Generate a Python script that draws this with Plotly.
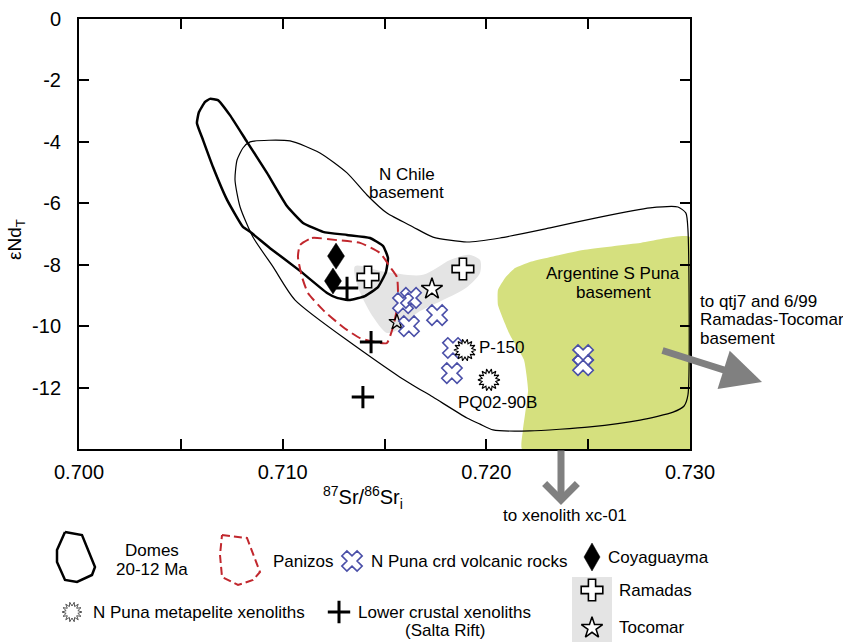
import math
import plotly.graph_objects as go

# ---------------- data ----------------
x_range = [0.700, 0.730]
y_range = [-14, 0]
x_tickvals = [0.700, 0.705, 0.710, 0.715, 0.720, 0.725, 0.730]
x_ticktext = ["0.700", "", "0.710", "", "0.720", "", "0.730"]
y_tickvals = [0, -2, -4, -6, -8, -10, -12]
y_ticktext = ["0", "-2", "-4", "-6", "-8", "-10", "-12"]

# Domes 20-12 Ma field
domes_x = [0.70643, 0.70682, 0.70741, 0.70825, 0.70923, 0.71021, 0.71100, 0.71198, 0.71316,
           0.71429, 0.71493, 0.71517, 0.71507, 0.71468, 0.71404, 0.71331, 0.71267, 0.71218,
           0.71085, 0.70938, 0.70840, 0.70805, 0.70727, 0.70658, 0.70609, 0.70579, 0.70589,
           0.70619, 0.70643]
domes_y = [-2.60, -2.64, -3.13, -4.00, -5.01, -6.09, -6.64, -6.93, -7.03,
           -7.13, -7.39, -7.78, -8.24, -8.73, -9.02, -9.15, -9.08, -8.92,
           -8.20, -7.46, -6.93, -6.77, -5.89, -4.82, -3.94, -3.39, -3.03,
           -2.70, -2.60]

# N Chile basement field
nchile_x = [0.70840, 0.71036, 0.71183, 0.71316, 0.71414, 0.71512, 0.71640, 0.71738, 0.71905,
            0.72067, 0.72313, 0.72558, 0.72804, 0.72941, 0.72980, 0.72990, 0.72990, 0.72971,
            0.72917, 0.72755, 0.72509, 0.72214, 0.72033, 0.71969, 0.71905, 0.71738, 0.71576,
            0.71061, 0.70953, 0.70854, 0.70791, 0.70766, 0.70776, 0.70805, 0.70840]
nchile_y = [-4.00, -3.97, -4.36, -5.01, -5.73, -6.32, -6.77, -7.10, -7.26,
            -7.13, -6.80, -6.45, -6.15, -6.12, -6.32, -6.87, -12.24, -12.60,
            -12.80, -13.06, -13.28, -13.41, -13.38, -13.19, -12.99, -12.31, -11.66,
            -9.15, -8.07, -7.10, -6.12, -5.24, -4.59, -4.20, -4.00]

# Panizos field
panizos_x = [0.71085, 0.71144, 0.71267, 0.71380, 0.71478, 0.71527, 0.71561, 0.71566, 0.71542,
             0.71512, 0.71478, 0.71380, 0.71296, 0.71198, 0.71124, 0.71095, 0.71075, 0.71085]
panizos_y = [-7.36, -7.13, -7.20, -7.29, -7.62, -8.07, -8.40, -9.25, -10.03,
             -10.55, -10.55, -10.39, -10.03, -9.47, -8.92, -8.40, -7.75, -7.36]

# Ramadas-Tocomar grey field
grey_x = [0.71355, 0.71493, 0.71689, 0.71822, 0.71920, 0.71969, 0.71969, 0.71905, 0.71787,
          0.71660, 0.71561, 0.71512, 0.71444, 0.71370, 0.71355]
grey_y = [-8.05, -8.22, -8.33, -7.85, -7.68, -7.85, -8.27, -8.73, -9.15,
          -9.57, -10.13, -10.22, -9.70, -8.73, -8.05]

# Argentine S Puna basement field
green_x = [0.72214, 0.72475, 0.72755, 0.73000, 0.73000, 0.72175, 0.72180, 0.72205, 0.72185,
           0.72116, 0.72057, 0.72057, 0.72092, 0.72141, 0.72214]
green_y = [-7.91, -7.52, -7.29, -7.10, -14.00, -14.00, -13.38, -12.08, -11.10,
           -10.29, -9.31, -8.82, -8.43, -8.11, -7.91]

# point data
coya_x = [0.71262, 0.71247]
coya_y = [-7.72, -8.53]
ramadas_x = [0.71419, 0.71885]
ramadas_y = [-8.40, -8.14]
tocomar_x = [0.71733, 0.71561]
tocomar_y = [-8.79, -9.87]
crd_x = [0.71591, 0.71630, 0.71620, 0.71758, 0.71836, 0.71831, 0.72475, 0.72475]
crd_y = [-9.25, -9.08, -10.00, -9.64, -10.71, -11.53, -10.94, -11.27]
meta_x = [0.71895, 0.72013]
meta_y = [-10.78, -11.75]
meta_names = ["P-150", "PQ02-90B"]
lower_x = [0.71316, 0.71434, 0.71394]
lower_y = [-8.76, -10.52, -12.31]

# ---------------- layout constants ----------------
W, H = 843, 642
PL, PR, PT, PB = 79, 690, 19, 449
FONT = "Liberation Sans, Arial, Helvetica, sans-serif"
BLUE = "#4a4fa8"
RED = "#c1272d"
GREEN = "#d5e07e"
GREY = "#e4e4e4"
ARROW = "#808080"

sx = (PR - PL) / (x_range[1] - x_range[0])   # px per x unit
sy = (PB - PT) / (y_range[1] - y_range[0])   # px per y unit


def burst(cx, cy, ro, ri, n, kx, ky):
    xs, ys = [], []
    for k in range(2 * n + 1):
        a = math.pi * k / n
        r = ro if k % 2 == 0 else ri
        xs.append(cx + r * math.cos(a) / kx)
        ys.append(cy + r * math.sin(a) / ky)
    return xs, ys


def diamond(cx, cy, hw, hh, kx, ky):
    return ([cx, cx + hw / kx, cx, cx - hw / kx, cx],
            [cy + hh / ky, cy, cy - hh / ky, cy, cy + hh / ky])


fig = go.Figure()

def poly(x, y, line_color="black", width=1.0, fill=None, fillcolor=None, dash=None,
         shape="linear", smoothing=None, xaxis="x", yaxis="y"):
    ln = dict(color=line_color, width=width, shape=shape)
    if dash:
        ln["dash"] = dash
    if smoothing is not None:
        ln["smoothing"] = smoothing
    fig.add_trace(go.Scatter(x=x, y=y, mode="lines", line=ln, fill=fill, fillcolor=fillcolor,
                             hoverinfo="skip", showlegend=False, xaxis=xaxis, yaxis=yaxis))

# fields
poly(green_x, green_y, line_color="rgba(0,0,0,0)", width=0, fill="toself", fillcolor=GREEN,
     shape="spline", smoothing=0.4)
poly(grey_x, grey_y, line_color="rgba(0,0,0,0)", width=0, fill="toself", fillcolor=GREY,
     shape="spline", smoothing=0.8)
poly(nchile_x, nchile_y, width=1.2, shape="spline", smoothing=0.6)
poly(domes_x, domes_y, width=2.5, shape="spline", smoothing=0.4)
poly(panizos_x, panizos_y, line_color=RED, width=2, dash="10px,5px", shape="spline", smoothing=0.5)

def pts(x, y, symbol, size, color="white", lcolor="black", lwidth=1.5, xaxis="x", yaxis="y"):
    fig.add_trace(go.Scatter(x=x, y=y, mode="markers", xaxis=xaxis, yaxis=yaxis,
                             marker=dict(symbol=symbol, size=size, color=color,
                                         line=dict(color=lcolor, width=lwidth)),
                             hoverinfo="skip", showlegend=False, cliponaxis=False))

for cx, cy in zip(coya_x, coya_y):
    dx, dy = diamond(cx, cy, 8.5, 13, sx, sy)
    poly(dx, dy, width=0.5, fill="toself", fillcolor="black")
pts(lower_x, lower_y, "cross-thin-open", 16, color="black", lcolor="black", lwidth=3)
pts(ramadas_x, ramadas_y, "cross", 18, color="white", lcolor="black", lwidth=1.6)
pts(tocomar_x[:1], tocomar_y[:1], "star", 16, color="white", lcolor="black", lwidth=1.5)
pts(tocomar_x[1:], tocomar_y[1:], "star-open", 12, color="black", lwidth=1.3)
pts(crd_x, crd_y, "x", 18, color="white", lcolor="white", lwidth=0)
pts(crd_x, crd_y, "x-open", 18, color=BLUE, lcolor=BLUE, lwidth=1.6)

for mx, my in zip(meta_x, meta_y):
    bx, by = burst(mx, my, 11, 7, 14, sx, sy)
    poly(bx, by, width=1.1, fill="toself", fillcolor="white")

# ---------------- legend (overlay pixel axes) ----------------
def lp(x, y, **kw):
    poly(x, y, xaxis="x2", yaxis="y2", **kw)

leg_domes_x = [65, 82, 95, 92, 77, 65, 57, 57, 65]
leg_domes_y = [532, 535, 567, 575, 582, 580, 562, 550, 532]
lp(leg_domes_x, leg_domes_y, width=2.5)
leg_pan_x = [222, 247, 260, 253, 238, 222, 220, 222]
leg_pan_y = [535, 538, 572, 580, 585, 577, 555, 535]
lp(leg_pan_x, leg_pan_y, line_color=RED, width=2, dash="8px,4px")

pts([352], [561], "x", 18, color="white", lcolor=BLUE, lwidth=1.6, xaxis="x2", yaxis="y2")
ldx, ldy = diamond(592, 557, 8, 14, 1, 1)
lp(ldx, ldy, width=0.5, fill="toself", fillcolor="black")
pts([592], [590], "cross", 18, color="white", lcolor="black", lwidth=1.6, xaxis="x2", yaxis="y2")
pts([592], [628], "star", 16, color="white", lcolor="black", lwidth=1.5, xaxis="x2", yaxis="y2")
pts([339], [612], "cross-thin-open", 16, color="black", lcolor="black", lwidth=3,
    xaxis="x2", yaxis="y2")
lbx, lby = burst(72, 612, 10, 6, 14, 1, 1)
lp(lbx, lby, line_color="#555555", width=1.0, fill="toself", fillcolor="white")

shapes = [dict(type="rect", xref="x2", yref="y2", x0=572, x1=612, y0=577, y1=642,
               fillcolor=GREY, line=dict(width=0), layer="below")]

ann = []
def txt(x, y, s, size=17, xanchor="center", xref="x2", yref="y2", angle=0):
    ann.append(dict(x=x, y=y, xref=xref, yref=yref, text=s, showarrow=False,
                    xanchor=xanchor, yanchor="middle", textangle=angle,
                    font=dict(family=FONT, size=size, color="black")))

# in-plot labels (data coordinates)
txt(0.71610, -5.05, "N Chile", xref="x", yref="y")
txt(0.71610, -5.65, "basement", xref="x", yref="y")
txt(0.72622, -8.30, "Argentine S Puna", xref="x", yref="y")
txt(0.72622, -8.90, "basement", xref="x", yref="y")
txt(meta_x[0] + 0.0006, meta_y[0] + 0.1, meta_names[0], xanchor="left", xref="x", yref="y")
txt(meta_x[1] + 0.0004, meta_y[1] - 0.72, meta_names[1], xref="x", yref="y")

# outside labels
txt(698, 301, "to qtj7 and 6/99", xanchor="left")
txt(698, 319, "Ramadas-Tocomar", xanchor="left")
txt(698, 338, "basement", xanchor="left")
txt(565, 515, "to xenolith xc-01")
txt(363, 497, "<sup>87</sup>Sr/<sup>86</sup>Sr<sub>i</sub>", size=20)
txt(16, 240, "εNd<sub>T</sub>", size=19, angle=-90)

# legend text
txt(152, 550, "Domes")
txt(152, 569, "20-12 Ma")
txt(271, 561, "Panizos", xanchor="left")
txt(369, 561, "N Puna crd volcanic rocks", xanchor="left")
txt(606, 557, "Coyaguayma", xanchor="left")
txt(617, 590, "Ramadas", xanchor="left")
txt(617, 627, "Tocomar", xanchor="left")
txt(91, 612, "N Puna metapelite xenoliths", xanchor="left")
txt(444, 612, "Lower crustal xenoliths")
txt(445, 630, "(Salta Rift)")

# arrows
ann.append(dict(x=762, y=382, ax=661, ay=350, xref="x2", yref="y2", axref="x2", ayref="y2",
                text="", showarrow=True, arrowhead=2, arrowsize=1.15, arrowwidth=7,
                arrowcolor=ARROW, standoff=0))
ann.append(dict(x=561, y=505, ax=561, ay=449, xref="x2", yref="y2", axref="x2", ayref="y2",
                text="", showarrow=True, arrowhead=4, arrowsize=0.9, arrowwidth=7,
                arrowcolor=ARROW, standoff=0))

axis_common = dict(showline=True, linecolor="black", linewidth=2, mirror="ticks",
                   ticks="inside", ticklen=10, tickwidth=1.6, tickcolor="black",
                   showgrid=False, zeroline=False, automargin=False,
                   tickfont=dict(family=FONT, size=20, color="black"))

fig.update_layout(
    template="none",
    width=W, height=H, autosize=False,
    margin=dict(l=0, r=0, t=0, b=0, pad=0),
    paper_bgcolor="white", plot_bgcolor="rgba(0,0,0,0)",
    showlegend=False,
    font=dict(family=FONT, color="black"),
    xaxis=dict(domain=[PL / W, PR / W], range=x_range, tickmode="array",
               tickvals=x_tickvals, ticktext=x_ticktext, anchor="y",
               ticklabelstandoff=4, **axis_common),
    yaxis=dict(domain=[1 - PB / H, 1 - PT / H], range=y_range, tickmode="array",
               tickvals=y_tickvals, ticktext=y_ticktext, anchor="x",
               ticklabelstandoff=12, **axis_common),
    xaxis2=dict(domain=[0, 1], range=[0, W], visible=False, anchor="y2", fixedrange=True,
                automargin=False),
    yaxis2=dict(domain=[0, 1], range=[H, 0], visible=False, anchor="x2", fixedrange=True,
                automargin=False),
    shapes=shapes,
    annotations=ann,
)

fig.write_html("out.html")
